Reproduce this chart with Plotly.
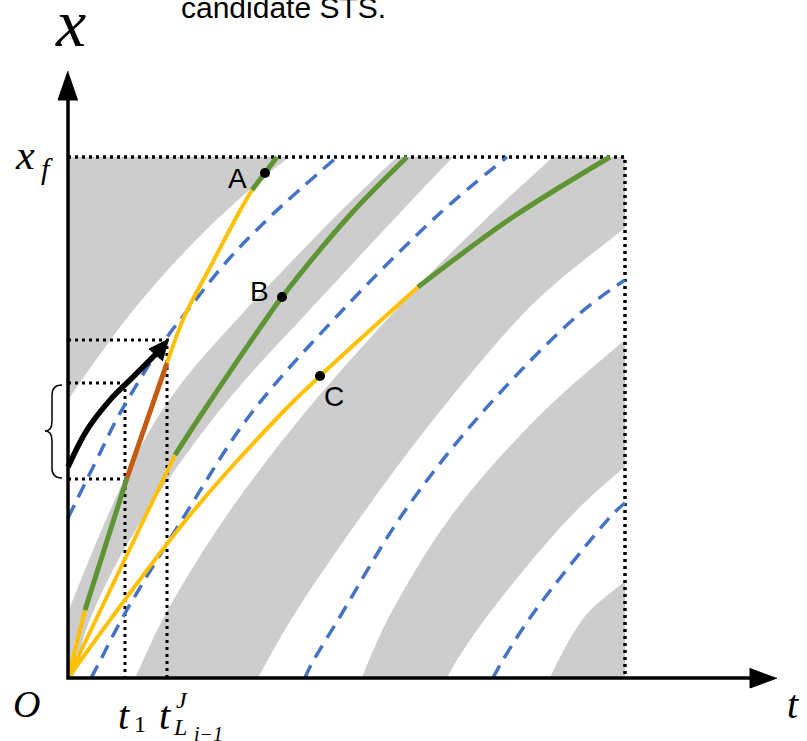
import plotly.graph_objects as go

# ---------------- data (t, x) in diagram units ----------------
T_END = 557
X_F = 521

# gray band boundaries (points past the box edges are trimmed by masks)
g1_edge_t = [0, 30, 59, 97, 138, 170, 202, 221, 245]
g1_edge_x = [278, 321, 360, 405, 448, 478, 506, 521, 545]
g1_out_t = [-30, -30]
g1_out_x = [560, 260]

g2_left_t = [0, 21, 40, 61, 88, 120, 173, 254, 284, 329, 368]
g2_left_x = [66, 118, 163, 208, 258, 303, 363, 448, 478, 521, 556]
g2_right_t = [420, 385, 330, 237, 186, 148, 107, 77, 45, 18, 4]
g2_right_x = [556, 521, 463, 363, 308, 263, 208, 163, 108, 48, 0]

g3_left_t = [67, 73, 97, 159, 235, 323, 353, 422, 485, 520]
g3_left_x = [0, 13, 63, 163, 263, 363, 395, 463, 521, 553]
g3_out_t = [640, 605]
g3_out_x = [560, 487]
g3_right_t = [557, 488, 454, 369, 294, 226, 197, 190]
g3_right_x = [450, 395, 363, 263, 163, 63, 13, 0]

g4_left_t = [294, 299, 322, 384, 472, 557, 600]
g4_left_x = [0, 13, 63, 163, 263, 338, 373]
g4_out_t = [625]
g4_out_x = [300]
g4_right_t = [600, 557, 504, 420, 386, 379]
g4_right_x = [244, 211, 163, 63, 13, 0]

g5_left_t = [482, 488, 518, 557, 600]
g5_left_x = [0, 13, 63, 97, 136]
g5_out_t = [630, 470]
g5_out_x = [-30, -30]

# blue dashed curves
d1_t = [0, 32, 51, 97, 116, 160, 204, 269]
d1_x = [160, 225, 263, 338, 363, 418, 463, 521]
d2_t = [23, 30, 56, 117, 182, 270, 370, 439]
d2_x = [0, 13, 63, 163, 263, 363, 463, 521]
d3_t = [237, 243, 273, 334, 412, 510, 557]
d3_x = [0, 13, 63, 163, 263, 363, 398]
d4_t = [425, 432, 464, 544, 557]
d4_x = [0, 13, 63, 163, 175]

# trajectory A
a_y1_t = [0, 17]; a_y1_x = [0, 68]
a_g1_t = [17, 59]; a_g1_x = [68, 200]
a_or_t = [59, 99]; a_or_x = [200, 315]
a_y2_t = [99, 117, 139, 174, 184]; a_y2_x = [315, 363, 405, 471, 488]
a_g2_t = [184, 197, 209]; a_g2_x = [488, 505, 521]
# trajectory B
b_y_t = [0, 78, 107]; b_y_x = [0, 163, 223]
b_g_t = [107, 133, 201, 214, 282, 339]; b_g_x = [223, 263, 363, 381, 463, 521]
# trajectory C
c_y_t = [0, 122, 212, 252, 350]; c_y_x = [0, 163, 263, 302, 391]
c_g_t = [350, 445, 542]; c_g_x = [391, 461, 521]

# points A, B, C
pt_names = ["A", "B", "C"]
pt_t = [197, 214, 252]
pt_x = [505, 381, 302]
lbl_t = [169, 191, 266]
lbl_x = [500, 387, 282]

# black arrow
arr_t = [0, 19, 42, 65, 89]
arr_x = [211, 248, 278, 301, 325]
arr_head_t = [101, 81, 95]
arr_head_x = [339, 329, 317]

# dotted guide lines
t1 = 57
tL = 99
x_tip = 338
x_top_b = 295
x_bot_b = 199

# axes
ax_t_end = 684
ax_x_end = 580
vhead_t = [0, -10, 10]; vhead_x = [607, 578, 578]
hhead_t = [709, 682, 682]; hhead_x = [0, -10, 10]

# page extent in diagram units
T_MIN, T_MAX = -68, 739
X_MIN, X_MAX = -63, 678

GRAY = "#CDCDCD"
YEL = "#FFC000"
GRN = "#5E9433"
ORG = "#C55A11"
BLUE = "#4472C4"

fig = go.Figure()

def poly(ts, xs, color=GRAY, shape="spline"):
    fig.add_trace(go.Scatter(x=ts, y=xs, fill="toself", fillcolor=color,
                             mode="lines", line=dict(width=0, color=color, shape=shape),
                             hoverinfo="skip", showlegend=False))

poly(g1_edge_t + g1_out_t, g1_edge_x + g1_out_x)
poly(g2_left_t + g2_right_t + [0], g2_left_x + g2_right_x + [0])
poly(g3_left_t + g3_out_t + g3_right_t, g3_left_x + g3_out_x + g3_right_x)
poly(g4_left_t + g4_out_t + g4_right_t, g4_left_x + g4_out_x + g4_right_x)
poly(g5_left_t + g5_out_t, g5_left_x + g5_out_x)

# white masks outside the box (trim the parts past the edges)
poly([T_MIN, T_MAX, T_MAX, T_MIN], [X_F, X_F, X_MAX, X_MAX], "white", "linear")
poly([T_END, T_MAX, T_MAX, T_END], [X_MIN, X_MIN, X_F, X_F], "white", "linear")
poly([T_MIN, 0, 0, T_MIN], [X_MIN, X_MIN, X_F, X_F], "white", "linear")
poly([0, T_END, T_END, 0], [X_MIN, X_MIN, 0, 0], "white", "linear")

def line(ts, xs, color, width, dash="solid", shape="spline"):
    fig.add_trace(go.Scatter(x=ts, y=xs, mode="lines",
                             line=dict(color=color, width=width, dash=dash, shape=shape),
                             hoverinfo="skip", showlegend=False))

DOT = "3px,4px"
line([0, T_END, T_END], [X_F, X_F, 0], "black", 3.5, DOT, "linear")
line([0, tL, tL], [x_tip, x_tip, 0], "black", 3, DOT, "linear")
line([0, t1, t1], [x_top_b, x_top_b, 0], "black", 3, DOT, "linear")
line([0, t1], [x_bot_b, x_bot_b], "black", 3, DOT, "linear")

for dt, dx in [(d1_t, d1_x), (d2_t, d2_x), (d3_t, d3_x), (d4_t, d4_x)]:
    line(dt, dx, BLUE, 3.5, "14px,9px")

line(a_y1_t, a_y1_x, YEL, 4)
line(a_g1_t, a_g1_x, GRN, 5)
line(a_or_t, a_or_x, ORG, 5)
line(a_y2_t, a_y2_x, YEL, 4)
line(a_g2_t, a_g2_x, GRN, 5)
line(b_y_t, b_y_x, YEL, 4)
line(b_g_t, b_g_x, GRN, 5)
line(c_y_t, c_y_x, YEL, 4)
line(c_g_t, c_g_x, GRN, 5)

# black arrow
line(arr_t, arr_x, "black", 5.5)
fig.add_trace(go.Scatter(x=arr_head_t, y=arr_head_x, fill="toself", fillcolor="black",
                         mode="lines", line=dict(color="black", width=1),
                         hoverinfo="skip", showlegend=False))

# points
fig.add_trace(go.Scatter(x=pt_t, y=pt_x, mode="markers",
                         marker=dict(color="black", size=10), hoverinfo="skip", showlegend=False))

# axes
line([0, 0, ax_t_end], [ax_x_end, 0, 0], "black", 3.5, "solid", "linear")
for ht, hx in [(vhead_t, vhead_x), (hhead_t, hhead_x)]:
    fig.add_trace(go.Scatter(x=ht, y=hx, fill="toself", fillcolor="black",
                             mode="lines", line=dict(color="black", width=1),
                             hoverinfo="skip", showlegend=False))

# curly brace
brace = "M -6,293 Q -16,293 -16,283 L -16,257 Q -16,247 -23,247 Q -16,247 -16,237 L -16,210 Q -16,200 -6,200"
fig.add_shape(type="path", path=brace, xref="x", yref="y", line=dict(color="black", width=1.5))

SERIF = "Liberation Serif"
ann = []
def txt(t, x, s, size, family=SERIF, italic=True):
    ann.append(dict(x=t, y=x, xref="x", yref="y", text=("<i>%s</i>" % s) if italic else s,
                    showarrow=False, font=dict(family=family, size=size, color="black"),
                    xanchor="center", yanchor="middle"))

for n, lt, lx in zip(pt_names, lbl_t, lbl_x):
    txt(lt, lx, n, 28, "Liberation Sans", False)

txt(2, 655, "x", 68)
txt(-43, 523, "x", 42)
txt(-21, 510, "f", 30)
txt(-42, -26, "O", 38)
txt(725, -26, "t", 40)
txt(56, -37, "t", 40)
txt(72, -46, "1", 24, SERIF, False)
txt(97, -37, "t", 40)
txt(114, -22, "J", 24)
txt(112, -49, "L", 24)
txt(140, -56, "i−1", 20)
txt(215, 671, "candidate STS.", 30, "Liberation Sans", False)

fig.update_layout(
    width=807, height=741, margin=dict(l=0, r=0, t=0, b=0),
    plot_bgcolor="white", paper_bgcolor="white",
    xaxis=dict(range=[T_MIN, T_MAX], visible=False, fixedrange=True),
    yaxis=dict(range=[X_MIN, X_MAX], visible=False, fixedrange=True),
    annotations=ann, showlegend=False,
)
fig.write_html("out.html")
